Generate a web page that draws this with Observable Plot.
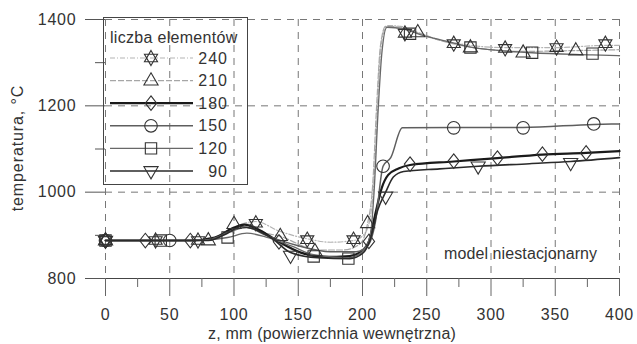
<!DOCTYPE html>
<html><head><meta charset="utf-8">
<script src="https://cdn.jsdelivr.net/npm/d3@7"></script>
<script src="https://cdn.jsdelivr.net/npm/@observablehq/plot@0.6"></script>
<style>
body{margin:0;background:#fff;}
#chart{position:relative;width:637px;height:344px;}
</style></head><body><div id="chart"></div>
<script>
// ---- data (z in mm, temperature in °C) ----
const seriesNames = ["240", "210", "180", "150", "120", "90"];
const legendTitle = "liczba elementów";
const xLabel = "z, mm (powierzchnia wewnętrzna)";
const yLabel = "temperatura, °C";
const xTicks = [0, 50, 100, 150, 200, 250, 300, 350, 400];
const xMinorTicks = [25, 75, 125, 175, 225, 275, 325, 375];
const yTicks = [800, 1000, 1200, 1400];
const yMinorTicks = [900, 1100, 1300];
const annotation = [{z: 323, t: 858, text: "model niestacjonarny"}];

const line240 = [[0,888],[39,888],[72,888],[90,898],[105,925],[117,932],[135,910],[157,892],[175,884],[193,888],[202,905],[207,960],[210,1080],[213,1280],[216,1365],[220,1386],[230,1384],[240,1372],[255,1356],[271,1346],[290,1338],[311,1335],[351,1335],[389,1340],[400,1340]];
const mark240 = [[0,888],[39,888],[72,888],[117,928],[157,890],[193,890],[233,1368],[271,1344],[311,1333],[351,1335],[389,1344]];

const line210 = [[0,888],[80,888],[100,915],[110,926],[125,905],[136,898],[150,880],[163,866],[185,866],[198,880],[204,928],[208,1020],[211,1200],[214,1340],[218,1384],[230,1382],[243,1370],[260,1352],[284,1336],[325,1326],[366,1328],[400,1330]];
const mark210 = [[0,888],[80,888],[100,926],[136,898],[163,863],[204,928],[243,1370],[284,1335],[325,1323],[366,1328]];

const line180 = [[0,888],[31,888],[66,888],[85,895],[100,918],[108,925],[120,912],[135,885],[152,860],[170,850],[190,852],[200,865],[205,886],[210,950],[215,1010],[220,1040],[228,1055],[237,1063],[271,1071],[305,1079],[340,1087],[374,1091],[400,1095]];
const mark180 = [[0,888],[31,888],[66,888],[135,885],[205,886],[237,1065],[271,1072],[305,1079],[340,1088],[374,1091]];

const line150 = [[0,888],[50,888],[80,890],[98,910],[110,918],[125,900],[150,876],[175,862],[195,862],[205,880],[210,930],[216,1060],[222,1080],[231,1149],[271,1150],[325,1150],[380,1157],[400,1158]];
const mark150 = [[0,888],[50,888],[216,1060],[271,1149],[325,1149],[380,1158]];

const line120 = [[0,888],[43,888],[80,890],[95,895],[110,905],[125,896],[145,875],[162,855],[189,848],[200,862],[206,900],[209,1000],[212,1180],[215,1320],[219,1382],[232,1378],[245,1365],[265,1350],[284,1336],[332,1323],[379,1318],[400,1316]];
const mark120 = [[0,888],[43,888],[95,895],[162,851],[189,846],[237,1367],[284,1335],[332,1323],[379,1321]];

const line90 = [[0,888],[45,888],[80,888],[95,905],[105,920],[115,915],[130,892],[144,860],[165,848],[190,846],[200,858],[206,890],[212,960],[218,1000],[224,1035],[232,1048],[260,1054],[290,1060],[330,1066],[362,1071],[400,1080]];
const mark90 = [[0,888],[144,853],[218,990],[290,1060],[362,1068]];

const lines = {"240": line240, "210": line210, "180": line180, "150": line150, "120": line120, "90": line90};
const markers = {"240": mark240, "210": mark210, "180": mark180, "150": mark150, "120": mark120, "90": mark90};

// ---- symbols ----
const rad = s => Math.sqrt(s / Math.PI);
const hexagram = {draw(c, s) { const r = rad(s) * 1.2;
  for (const flip of [1, -1]) { c.moveTo(0, -r * flip); c.lineTo(r * 0.866, r * 0.5 * flip); c.lineTo(-r * 0.866, r * 0.5 * flip); c.closePath(); } }};
const triUp = {draw(c, s) { const r = rad(s) * 1.25; c.moveTo(0, -r); c.lineTo(r * 0.9, r * 0.55); c.lineTo(-r * 0.9, r * 0.55); c.closePath(); }};
const triDown = {draw(c, s) { const r = rad(s) * 1.25; c.moveTo(0, r); c.lineTo(r * 0.9, -r * 0.55); c.lineTo(-r * 0.9, -r * 0.55); c.closePath(); }};
const diamond = {draw(c, s) { const r = rad(s); c.moveTo(0, -r * 1.15); c.lineTo(r * 0.9, 0); c.lineTo(0, r * 1.15); c.lineTo(-r * 0.9, 0); c.closePath(); }};
const square = {draw(c, s) { const h = rad(s) * 0.9; c.rect(-h, -h, 2 * h, 2 * h); }};
const circle = {draw(c, s) { const r = rad(s); c.moveTo(r, 0); c.arc(0, 0, r, 0, 2 * Math.PI); }};

const style = {
  "240": {symbol: hexagram, stroke: "#b4b4b4", width: 1.2, dash: "5,2,1,2"},
  "210": {symbol: triUp, stroke: "#a6a6a6", width: 1.2, dash: "6,2"},
  "180": {symbol: diamond, stroke: "#1a1a1a", width: 2.2, dash: null},
  "150": {symbol: circle, stroke: "#5e5e5e", width: 1.5, dash: null},
  "120": {symbol: square, stroke: "#686868", width: 1.3, dash: null},
  "90": {symbol: triDown, stroke: "#2a2a2a", width: 1.6, dash: null}
};

const font = "'Liberation Sans', Arial, sans-serif";
const marks = [
  Plot.gridX(xTicks, {stroke: "#777", strokeOpacity: 1, strokeDasharray: "7,6", strokeWidth: 1}),
  Plot.gridY(yTicks, {stroke: "#777", strokeOpacity: 1, strokeDasharray: "7,6", strokeWidth: 1}),
  Plot.ruleY([800], {stroke: "#444", strokeWidth: 1}),
  Plot.axisX(xTicks, {tickSize: 18, tickPadding: 12, stroke: "#666", label: null, fontSize: 16, fill: "#333", tickFormat: d3.format("d")}),
  Plot.axisX(xMinorTicks, {tickSize: 9, stroke: "#666", text: null, label: null}),
  Plot.axisY(yTicks, {tickSize: 20, tickPadding: 9, stroke: "#555", label: null, fontSize: 16, fill: "#333", tickFormat: d3.format("d")}),
  Plot.axisY(yMinorTicks, {tickSize: 10, stroke: "#555", text: null, label: null})
];
for (const name of seriesNames) {
  const st = style[name];
  marks.push(Plot.line(lines[name], {x: d => d[0], y: d => d[1], stroke: st.stroke, strokeWidth: st.width, strokeDasharray: st.dash, curve: "monotone-x"}));
}
for (const name of seriesNames) {
  const st = style[name];
  marks.push(Plot.dot(markers[name], {x: d => d[0], y: d => d[1], symbol: st.symbol, r: 6.3, stroke: "#333", strokeWidth: 1.1, fill: "none"}));
}
marks.push(Plot.text(annotation, {x: "z", y: "t", text: "text", fontSize: 16, fill: "#333", style: {letterSpacing: "0.1px"}}));

const chart = Plot.plot({
  width: 637, height: 344,
  marginLeft: 105, marginRight: 18, marginTop: 19, marginBottom: 66,
  x: {domain: [0, 400]},
  y: {domain: [800, 1400]},
  style: {fontFamily: font, background: "#fff", letterSpacing: "0.8px"},
  marks
});
document.getElementById("chart").appendChild(chart);
d3.select(chart).selectAll("g[aria-label='text'] text").style("letter-spacing", "0.1px");

// axis titles and legend
const svg = d3.select(chart);
svg.append("text").attr("x", 332).attr("y", 339).attr("text-anchor", "middle")
  .attr("font-size", 16).attr("fill", "#333").attr("font-family", font).style("letter-spacing", "0.2px").text(xLabel);
svg.append("text").attr("transform", "translate(23,148) rotate(-90)").attr("text-anchor", "middle")
  .attr("font-size", 16).attr("fill", "#333").attr("font-family", font).style("letter-spacing", "0.9px").text(yLabel);

const lg = svg.append("g").attr("font-family", font).attr("font-size", 16).attr("fill", "#333");
lg.append("rect").attr("x", 103.5).attr("y", 17.5).attr("width", 144).attr("height", 167)
  .attr("fill", "none").attr("stroke", "#444").attr("stroke-width", 1);
lg.append("text").attr("x", 110).attr("y", 43).attr("text-anchor", "start").text(legendTitle).style("letter-spacing", "0.3px");
seriesNames.forEach((name, i) => {
  const st = style[name];
  const y = 58 + i * 22.6;
  lg.append("line").attr("x1", 110).attr("x2", 193).attr("y1", y).attr("y2", y)
    .attr("stroke", st.stroke).attr("stroke-width", st.width).attr("stroke-dasharray", st.dash);
  lg.append("path").attr("transform", `translate(151,${y})`)
    .attr("d", d3.symbol(st.symbol, Math.PI * 6.3 * 6.3)())
    .attr("fill", "none").attr("stroke", "#333").attr("stroke-width", 1.1);
  lg.append("text").attr("x", 228).attr("y", y + 5.5).attr("text-anchor", "end").text(name).style("letter-spacing", "1px");
});
</script></body></html>
